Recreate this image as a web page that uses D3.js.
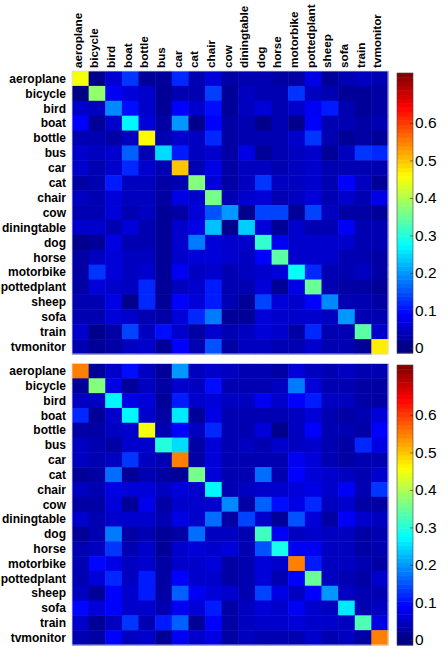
<!DOCTYPE html>
<html><head><meta charset="utf-8">
<script src="https://cdn.jsdelivr.net/npm/d3@7"></script>
<style>html,body{margin:0;padding:0;background:#fff;}svg{display:block;}</style>
</head><body>
<svg id="chart" width="448" height="650"></svg>
<script>
const categories = ["aeroplane","bicycle","bird","boat","bottle","bus","car","cat","chair","cow","diningtable","dog","horse","motorbike","pottedplant","sheep","sofa","train","tvmonitor"];
const colorTicks = [0, 0.1, 0.2, 0.3, 0.4, 0.5, 0.6];
const colorMax = 0.733;

const matrixTop = [
[0.45,0.01,0.06,0.13,0.02,0.02,0.12,0.037,0.064,0.027,0.037,0.037,0.027,0.027,0.073,0.018,0.037,0.046,0.037],
[0.005,0.38,0.082,0.064,0.055,0.018,0.037,0.037,0.137,0.018,0.046,0.037,0.037,0.128,0.046,0.037,0.018,0.018,0.027],
[0.055,0.046,0.19,0.1,0.055,0.018,0.091,0.055,0.1,0.018,0.046,0.064,0.037,0.055,0.082,0.11,0.037,0.018,0.027],
[0.091,0.018,0.055,0.27,0.064,0.027,0.2,0.01,0.091,0.027,0.037,0.01,0.037,0.01,0.091,0.037,0.037,0.027,0.037],
[0.037,0.037,0.027,0.046,0.46,0.037,0.055,0.046,0.12,0.027,0.037,0.037,0.037,0.055,0.13,0.037,0.018,0.027,0.018],
[0.055,0.046,0.055,0.16,0.037,0.25,0.11,0.046,0.055,0.027,0.073,0.018,0.037,0.046,0.055,0.018,0.046,0.13,0.12],
[0.055,0.037,0.055,0.12,0.055,0.037,0.5,0.037,0.073,0.027,0.046,0.046,0.037,0.046,0.055,0.037,0.037,0.037,0.037],
[0.027,0.037,0.11,0.046,0.046,0.027,0.037,0.37,0.064,0.027,0.046,0.13,0.046,0.046,0.055,0.037,0.091,0.046,0.018],
[0.046,0.037,0.064,0.046,0.046,0.027,0.073,0.055,0.36,0.037,0.055,0.064,0.037,0.046,0.064,0.037,0.055,0.037,0.073],
[0.037,0.037,0.064,0.037,0.046,0.018,0.027,0.064,0.15,0.2,0.01,0.14,0.14,0.018,0.14,0.046,0.027,0.027,0.018],
[0.055,0.055,0.037,0.064,0.037,0.018,0.055,0.073,0.23,0.01,0.24,0.064,0.018,0.055,0.037,0.037,0.082,0.037,0.037],
[0.01,0.018,0.073,0.037,0.037,0.018,0.055,0.18,0.064,0.055,0.055,0.31,0.082,0.055,0.055,0.055,0.055,0.037,0.037],
[0.027,0.046,0.064,0.046,0.046,0.018,0.055,0.064,0.064,0.055,0.046,0.091,0.34,0.055,0.055,0.055,0.037,0.037,0.027],
[0.027,0.13,0.064,0.046,0.055,0.018,0.082,0.046,0.055,0.037,0.046,0.055,0.064,0.28,0.12,0.037,0.037,0.046,0.027],
[0.027,0.064,0.055,0.046,0.12,0.018,0.046,0.055,0.11,0.037,0.037,0.064,0.018,0.073,0.35,0.037,0.027,0.027,0.018],
[0.037,0.037,0.073,0.01,0.12,0.018,0.091,0.064,0.11,0.037,0.018,0.14,0.064,0.055,0.091,0.19,0.037,0.037,0.027],
[0.037,0.037,0.064,0.055,0.037,0.027,0.064,0.12,0.18,0.018,0.018,0.064,0.055,0.055,0.055,0.046,0.2,0.037,0.037],
[0.055,0.01,0.027,0.14,0.046,0.1,0.055,0.027,0.055,0.037,0.046,0.064,0.055,0.027,0.12,0.037,0.037,0.34,0.055],
[0.037,0.018,0.027,0.046,0.055,0.018,0.091,0.037,0.15,0.027,0.046,0.046,0.037,0.037,0.055,0.037,0.037,0.018,0.47]
];

const matrixBottom = [
[0.55,0.018,0.055,0.1,0.046,0.018,0.2,0.046,0.055,0.046,0.037,0.037,0.027,0.064,0.046,0.037,0.046,0.037,0.037],
[0.018,0.37,0.073,0.018,0.046,0.027,0.055,0.046,0.1,0.037,0.037,0.037,0.046,0.18,0.064,0.037,0.037,0.027,0.027],
[0.046,0.046,0.27,0.073,0.064,0.018,0.11,0.055,0.064,0.046,0.046,0.082,0.055,0.091,0.11,0.046,0.046,0.027,0.027],
[0.12,0.018,0.055,0.27,0.055,0.027,0.26,0.018,0.073,0.037,0.037,0.037,0.037,0.046,0.064,0.037,0.027,0.037,0.064],
[0.027,0.027,0.046,0.055,0.45,0.037,0.091,0.046,0.12,0.037,0.037,0.064,0.01,0.046,0.091,0.037,0.037,0.027,0.091],
[0.046,0.037,0.027,0.055,0.055,0.3,0.25,0.027,0.064,0.037,0.046,0.037,0.055,0.046,0.055,0.037,0.027,0.12,0.073],
[0.046,0.037,0.046,0.13,0.046,0.037,0.55,0.027,0.064,0.037,0.037,0.037,0.037,0.082,0.064,0.037,0.027,0.037,0.037],
[0.018,0.027,0.17,0.018,0.037,0.027,0.018,0.36,0.064,0.037,0.037,0.17,0.037,0.091,0.064,0.055,0.046,0.037,0.055],
[0.046,0.037,0.073,0.064,0.064,0.046,0.064,0.055,0.27,0.037,0.046,0.055,0.055,0.064,0.073,0.055,0.085,0.037,0.13],
[0.027,0.027,0.064,0.018,0.08,0.027,0.055,0.055,0.055,0.19,0.027,0.16,0.1,0.073,0.12,0.046,0.055,0.027,0.027],
[0.055,0.037,0.055,0.055,0.055,0.037,0.073,0.055,0.17,0.027,0.14,0.055,0.018,0.15,0.064,0.027,0.085,0.055,0.046],
[0.018,0.037,0.18,0.027,0.037,0.018,0.027,0.17,0.046,0.046,0.037,0.32,0.085,0.046,0.055,0.046,0.046,0.027,0.037],
[0.037,0.046,0.13,0.037,0.055,0.018,0.055,0.064,0.055,0.064,0.037,0.15,0.29,0.082,0.082,0.046,0.046,0.027,0.037],
[0.037,0.095,0.073,0.046,0.055,0.027,0.055,0.055,0.064,0.027,0.037,0.064,0.055,0.55,0.11,0.046,0.046,0.037,0.027],
[0.037,0.064,0.12,0.046,0.11,0.027,0.091,0.055,0.055,0.027,0.037,0.064,0.037,0.091,0.35,0.046,0.037,0.027,0.055],
[0.046,0.018,0.091,0.055,0.11,0.027,0.16,0.082,0.064,0.055,0.037,0.14,0.073,0.046,0.091,0.2,0.046,0.037,0.037],
[0.095,0.064,0.091,0.055,0.055,0.037,0.082,0.064,0.11,0.027,0.046,0.064,0.055,0.082,0.055,0.046,0.26,0.037,0.046],
[0.055,0.018,0.046,0.13,0.037,0.11,0.16,0.018,0.091,0.027,0.046,0.055,0.055,0.064,0.055,0.055,0.046,0.33,0.073],
[0.037,0.027,0.091,0.046,0.055,0.018,0.082,0.055,0.073,0.027,0.046,0.037,0.037,0.037,0.055,0.037,0.046,0.027,0.55]
];

function clamp01(v){ return Math.max(0, Math.min(1, v)); }
function jet(t){
  t = clamp01(t);
  const r = clamp01(1.5 - Math.abs(4*t - 3));
  const g = clamp01(1.5 - Math.abs(4*t - 2));
  const b = clamp01(1.5 - Math.abs(4*t - 1));
  return d3.rgb(r*255, g*255, b*255).toString();
}
const color = v => jet(v / colorMax);

const svg = d3.select("#chart");
const FONT = "'Liberation Sans', Arial, Helvetica, sans-serif";

const panels = [
  {data: matrixTop, top: 71, bottom: 354, cbTop: 73, cbBottom: 353, colLabels: true},
  {data: matrixBottom, top: 363.5, bottom: 645, cbTop: 365, cbBottom: 645, colLabels: false}
];
const left = 72, right = 388;
const cbLeft = 397, cbRight = 413;

panels.forEach(p => {
  const x = d3.scaleBand().domain(d3.range(categories.length)).range([left, right]);
  const y = d3.scaleBand().domain(d3.range(categories.length)).range([p.top, p.bottom]);
  const g = svg.append("g");
  const cells = [];
  p.data.forEach((row, i) => row.forEach((v, j) => cells.push({i, j, v})));
  g.selectAll("rect.cell").data(cells).join("rect")
    .attr("class", "cell")
    .attr("x", d => x(d.j)).attr("y", d => y(d.i))
    .attr("width", x.bandwidth() + 0.5).attr("height", y.bandwidth() + 0.5)
    .attr("fill", d => color(d.v));
  g.append("rect").attr("x", left).attr("y", p.top)
    .attr("width", right-left).attr("height", p.bottom-p.top)
    .attr("fill", "none").attr("stroke", "#d8dbe8").attr("stroke-width", 0.8);

  // row labels
  g.selectAll("text.row").data(categories).join("text")
    .attr("class", "row")
    .attr("x", left - 6)
    .attr("y", (d, i) => y(i) + y.bandwidth()/2)
    .attr("dy", "0.36em")
    .attr("text-anchor", "end")
    .attr("font-family", FONT).attr("font-weight", "bold").attr("font-size", 12)
    .attr("fill", "#000")
    .text(d => d);

  if (p.colLabels) {
    g.selectAll("text.col").data(categories).join("text")
      .attr("class", "col")
      .attr("transform", (d, i) => `translate(${x(i) + x.bandwidth()/2 + 1.5},${p.top - 3}) rotate(-90)`)
      .attr("text-anchor", "start")
      .attr("font-family", FONT).attr("font-weight", "bold").attr("font-size", 11.7)
      .attr("fill", "#000")
      .text(d => d);
  }

  // colorbar
  const zeroY = p.cbBottom - 5;
  const cs = d3.scaleLinear().domain([0, colorMax]).range([zeroY, p.cbTop]);
  const nLev = 64;
  const step = colorMax / nLev;
  const levels = d3.range(nLev).map(k => (k + 0.5) * step);
  g.selectAll("rect.cb").data(levels).join("rect")
    .attr("class", "cb")
    .attr("x", cbLeft).attr("width", cbRight - cbLeft)
    .attr("y", d => cs(d + step/2))
    .attr("height", (d, k) => (k === 0 ? p.cbBottom : cs(d - step/2)) - cs(d + step/2) + 0.5)
    .attr("fill", d => color(d));
  g.append("rect").attr("x", cbLeft).attr("y", p.cbTop)
    .attr("width", cbRight-cbLeft).attr("height", p.cbBottom-p.cbTop)
    .attr("fill", "none").attr("stroke", "#444").attr("stroke-width", 0.6);
  const ax = d3.axisRight(cs).tickValues(colorTicks).tickSize(-3).tickPadding(2)
    .tickFormat(d => d === 0 ? "0" : d3.format(".1f")(d));
  const axg = g.append("g").attr("transform", `translate(${cbRight},0)`).call(ax);
  axg.select(".domain").remove();
  axg.selectAll(".tick line").attr("stroke", "#333").attr("stroke-width", 0.6);
  axg.selectAll(".tick text").attr("font-family", FONT).attr("font-size", 15.5).attr("fill", "#000");
});
</script>
</body></html>
